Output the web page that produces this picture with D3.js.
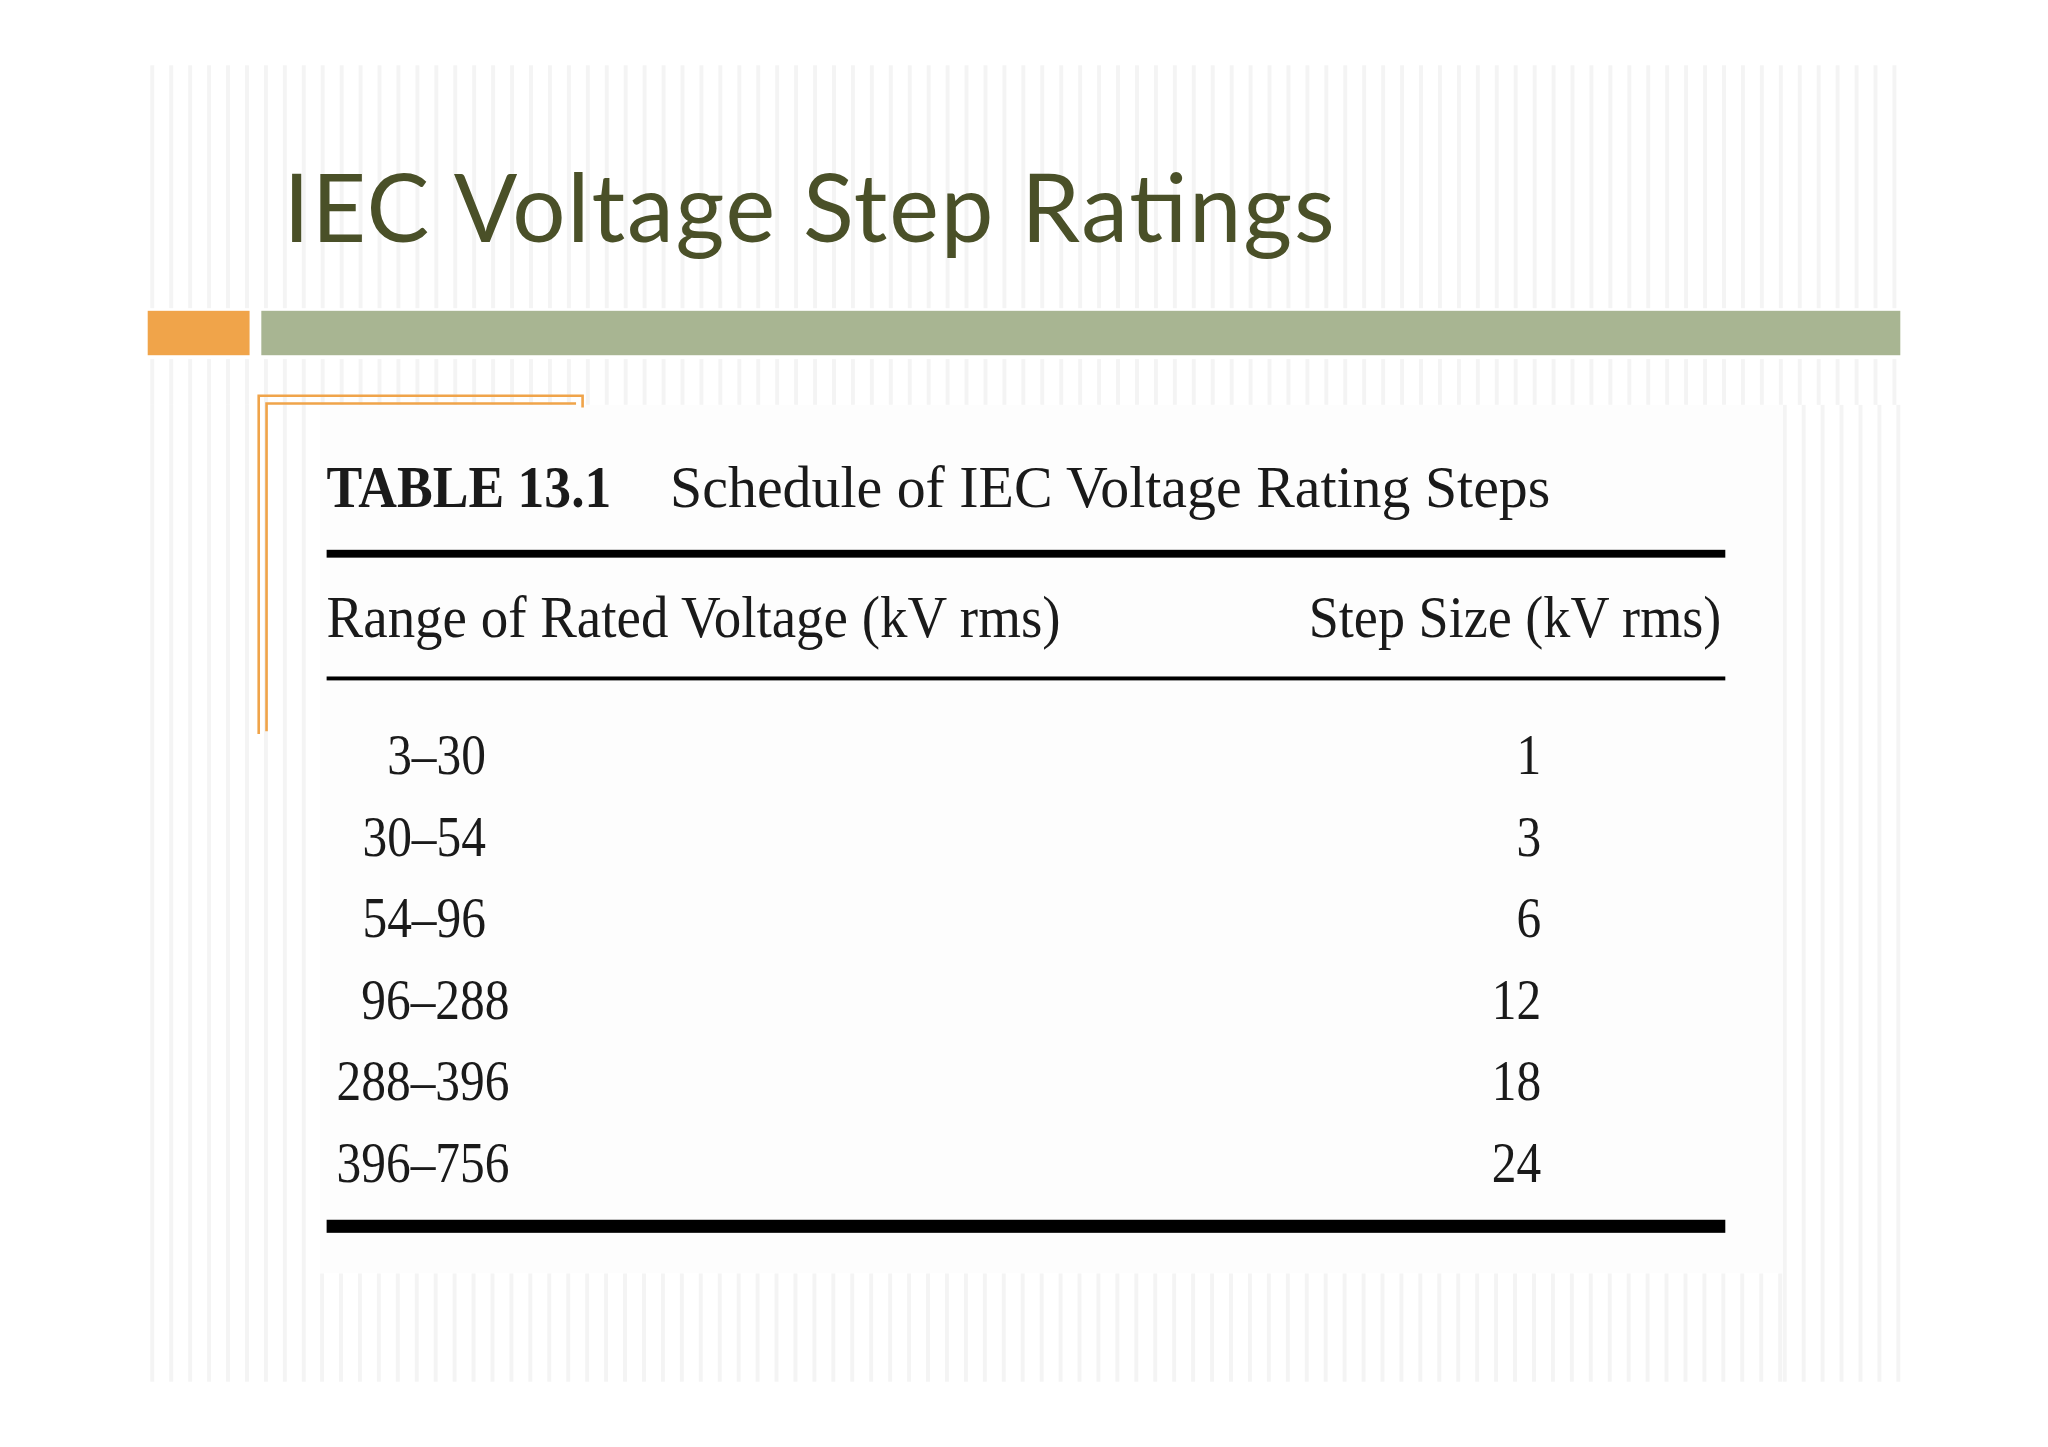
<!DOCTYPE html>
<html><head><meta charset="utf-8">
<script src="https://cdn.jsdelivr.net/npm/d3@7"></script>
<style>body{margin:0;background:#fff}</style></head>
<body><svg id="c" width="2048" height="1447" viewBox="0 0 1568 1108"></svg>
<script>
const title = "IEC Voltage Step Ratings";
const tableLabel = "TABLE 13.1";
const tableCaption = "Schedule of IEC Voltage Rating Steps";
const headers = ["Range of Rated Voltage (kV rms)", "Step Size (kV rms)"];
const ranges = ["3–30", "30–54", "54–96", "96–288", "288–396", "396–756"];
const steps = [1, 3, 6, 12, 18, 24];

const svg = d3.select("#c");
const stripeG = svg.append("g");
function stripes(x0, x1, y0, y1) {
  for (let x = x0; x < x1; x += 14.5) {
    stripeG.append("rect").attr("x", x).attr("y", y0).attr("width", 3).attr("height", y1 - y0).attr("fill", "#f4f4f4");
  }
}
stripes(115, 1455, 50, 236);
stripes(115, 1455, 275, 310);
stripes(115, 245, 310, 1058);
stripes(1365, 1455, 310, 1058);
stripes(245, 1365, 975, 1058);
svg.append("rect").attr("x", 245).attr("y", 310).attr("width", 1120).attr("height", 665).attr("fill", "#fdfdfd");

svg.append("text").attr("x", 217).attr("y", 185).attr("font-family", "Lato, sans-serif")
  .attr("font-size", 72).attr("fill", "#4a5028").attr("textLength", 805).text(title);
svg.append("rect").attr("x", 113).attr("y", 238).attr("width", 78).attr("height", 34).attr("fill", "#f0a44a");
svg.append("rect").attr("x", 200).attr("y", 238).attr("width", 1255).attr("height", 34).attr("fill", "#a8b592");

svg.append("path").attr("d", "M198,562 V303 H446 V312").attr("fill", "none").attr("stroke", "#f0a44a").attr("stroke-width", 2);
svg.append("path").attr("d", "M204,560 V309 H441").attr("fill", "none").attr("stroke", "#f0a44a").attr("stroke-width", 2);

const serif = "'Liberation Serif', 'DejaVu Serif', serif";
const t = svg.append("g").attr("font-family", serif).attr("fill", "#1a1a1a");
t.append("text").attr("x", 250).attr("y", 388).attr("font-size", 46).attr("font-weight", "bold").attr("textLength", 218).attr("lengthAdjust", "spacingAndGlyphs").text(tableLabel);
t.append("text").attr("x", 513).attr("y", 388).attr("font-size", 46).attr("textLength", 674).attr("lengthAdjust", "spacingAndGlyphs").text(tableCaption);
svg.append("rect").attr("x", 250).attr("y", 421).attr("width", 1071).attr("height", 6).attr("fill", "#000");
t.append("text").attr("x", 250).attr("y", 488).attr("font-size", 46).attr("textLength", 562).attr("lengthAdjust", "spacingAndGlyphs").text(headers[0]);
t.append("text").attr("x", 1002).attr("y", 488).attr("font-size", 46).attr("textLength", 316).attr("lengthAdjust", "spacingAndGlyphs").text(headers[1]);
svg.append("rect").attr("x", 250).attr("y", 518).attr("width", 1071).attr("height", 3).attr("fill", "#000");

const y = d3.scalePoint().domain(d3.range(ranges.length)).range([593, 905]);
t.selectAll(".r").data(ranges).join("text")
  .attr("transform", (d, i) => `translate(${i < 3 ? 372 : 390},${y(i)}) scale(0.86,1)`)
  .attr("text-anchor", "end").attr("font-size", 44).text(d => d);
t.selectAll(".s").data(steps).join("text")
  .attr("transform", (d, i) => `translate(1180,${y(i)}) scale(0.86,1)`)
  .attr("text-anchor", "end").attr("font-size", 44).text(d => d);
svg.append("rect").attr("x", 250).attr("y", 934).attr("width", 1071).attr("height", 10).attr("fill", "#000");
</script></body></html>
